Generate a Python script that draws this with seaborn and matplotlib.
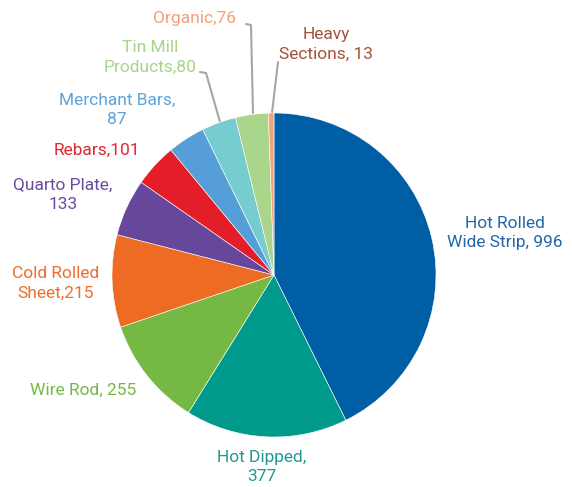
import matplotlib
matplotlib.use("Agg")
import matplotlib.pyplot as plt
import seaborn as sns

# Steel product shipments by product line
products = ["Hot Rolled\nWide Strip, 996", "Hot Dipped,\n377", "Wire Rod, 255",
            "Cold Rolled\nSheet,215", "Quarto Plate,\n133", "Rebars,101",
            "Merchant Bars,\n87", "Tin Mill\nProducts,80", "Organic,76",
            "Heavy\nSections, 13"]
volumes = [996, 377, 255, 215, 133, 101, 87, 80, 76, 13]
slice_colors = ["#005ea5", "#009a8d", "#75b843", "#ee6b24", "#67479b",
                "#e31e28", "#559ed7", "#77ccd0", "#a9d68b", "#f2a47a"]
label_colors = ["#2366ab", "#1f9a90", "#76b846", "#ee6e2c", "#6a4a9c",
                "#e32630", "#5fa3d8", "#a6d488", "#f2a07a", "#a4533a"]

sns.set_theme(style="white")
plt.rcParams["font.family"] = ["Roboto", "DejaVu Sans"]

W, H = 572, 487
fig = plt.figure(figsize=(W / 100, H / 100), dpi=100)
ax = fig.add_axes([0, 0, 1, 1])

def py(y):
    return H - y

ax.pie(volumes, colors=sns.color_palette(slice_colors), startangle=90,
       counterclock=False, center=(274, py(275)), radius=162,
       wedgeprops=dict(edgecolor="white", linewidth=0.4), frame=True)
ax.set_xlim(0, W)
ax.set_ylim(0, H)
ax.axis("off")

label_pos = [(505, 233), (262, 467), (83, 390), (56, 283), (63, 195),
             (97, 150), (117, 110), (150, 57), (195, 18), (326, 44)]
for text, color, (x, y) in zip(products, label_colors, label_pos):
    ax.text(x, py(y), text, color=color, fontsize=12.5, fontweight="normal",
            ha="center", va="center", linespacing=1.4)

# leader lines for the narrow slices at the top
leaders = [[(200, 72), (206, 73), (220, 122)],
           [(246, 24), (251, 25), (253, 113)],
           [(278, 62), (272, 113)]]
for pts in leaders:
    xs = [p[0] for p in pts]
    ys = [py(p[1]) for p in pts]
    ax.plot(xs, ys, color="#a6a6a6", linewidth=1.5, zorder=0.5)

fig.savefig("out.png", dpi=100, facecolor="white")
